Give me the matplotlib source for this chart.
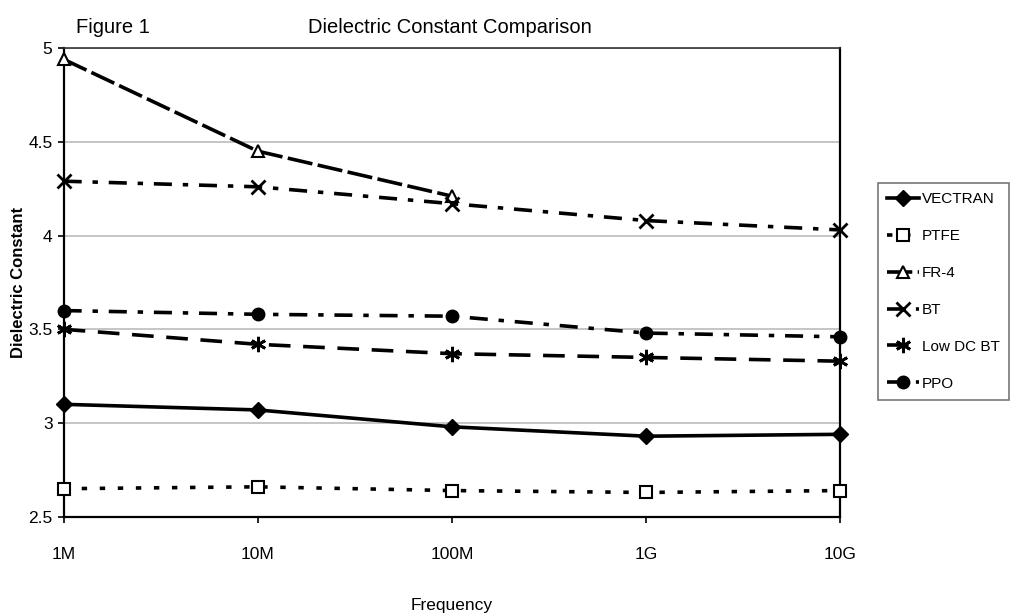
import matplotlib.pyplot as plt
import numpy as np

plt.rcParams["font.family"] = ["Liberation Sans", "DejaVu Sans"]

freq_labels = ["1M", "10M", "100M", "1G", "10G"]
vectran = [3.10, 3.07, 2.98, 2.93, 2.94]
ptfe = [2.65, 2.66, 2.64, 2.63, 2.64]
fr4 = [4.94, 4.45, 4.21]
bt = [4.29, 4.26, 4.17, 4.08, 4.03]
low_dc_bt = [3.50, 3.42, 3.37, 3.35, 3.33]
ppo = [3.60, 3.58, 3.57, 3.48, 3.46]

x = np.arange(len(freq_labels))

fig = plt.figure(figsize=(10.1, 6.16), dpi=100)
ax = fig.add_axes([0.063, 0.161, 0.769, 0.761])

lw = 2.6
common = dict(color="black", lw=lw, clip_on=False, zorder=3)
ax.plot(x, vectran, ls="-", marker="D", ms=8, label="VECTRAN", **common)
ax.plot(x, ptfe, ls=(0, (1.5, 3.5)), marker="s", ms=8, mfc="white", mew=1.5,
        label="PTFE", **common)
ax.plot(x[:len(fr4)], fr4, ls=(0, (7, 1.5)), marker="^", ms=9, mfc="white", mew=1.5,
        label="FR-4", **common)
ax.plot(x, bt, ls=(0, (5, 3, 1.5, 3)), marker="x", ms=10, mew=2, label="BT", **common)
ax.plot(x, low_dc_bt, ls=(0, (6, 3.5)), marker=(6, 2, 0), ms=11, mew=2,
        label="Low DC BT", **common)
ax.plot(x, ppo, ls=(0, (5, 3, 1.5, 3)), marker="o", ms=9, label="PPO", **common)

ax.set_xlim(0, len(freq_labels) - 1)
ax.set_ylim(2.5, 5)
ax.set_xticks(x)
ax.set_xticklabels(freq_labels)
ax.set_yticks([2.5, 3, 3.5, 4, 4.5, 5])
ax.set_yticklabels(["2.5", "3", "3.5", "4", "4.5", "5"])
ax.tick_params(axis="both", labelsize=12.5, length=4, width=1.2, direction="out")
ax.tick_params(axis="x", pad=18)
ax.tick_params(axis="y", pad=4)
ax.yaxis.grid(True, color="#bbbbbb", lw=1.2)
ax.set_axisbelow(True)
for side in ["left", "bottom", "right"]:
    ax.spines[side].set_linewidth(1.6)
ax.spines["top"].set_linewidth(1.2)
ax.spines["top"].set_linestyle((0, (4, 1)))
ax.spines["top"].set_color("#333333")

ax.set_xlabel("Frequency", fontsize=12.5, labelpad=26)
ax.set_ylabel("Dielectric Constant", fontsize=12, fontweight="bold")
ax.yaxis.set_label_coords(-0.049, 0.5)

fig.text(0.075, 0.955, "Figure 1", fontsize=14.5, va="center")
fig.text(0.445, 0.955, "Dielectric Constant Comparison", fontsize=14.5, va="center",
         ha="center")

leg = fig.legend(loc="upper left", bbox_to_anchor=(0.869, 0.703), frameon=True,
                 fancybox=False, edgecolor="#555555", fontsize=11, handlelength=2.1,
                 handletextpad=0.2, labelspacing=1.5, borderpad=0.6,
                 borderaxespad=0)
leg.get_frame().set_linewidth(1.2)

fig.savefig("out.png", dpi=100)
